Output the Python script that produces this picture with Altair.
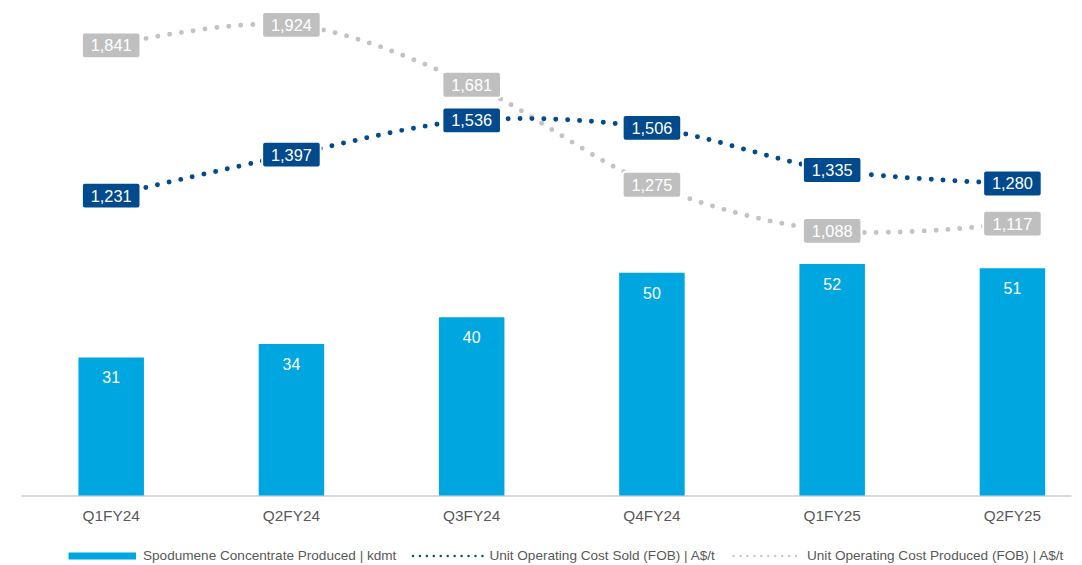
import altair as alt
import pandas as pd

quarters = ["Q1FY24", "Q2FY24", "Q3FY24", "Q4FY24", "Q1FY25", "Q2FY25"]
produced_kdmt = [31, 34, 40, 50, 52, 51]
cost_sold = [1231, 1397, 1536, 1506, 1335, 1280]
cost_produced = [1841, 1924, 1681, 1275, 1088, 1117]
legend_labels = [
    "Spodumene Concentrate Produced | kdmt",
    "Unit Operating Cost Sold (FOB) | A$/t",
    "Unit Operating Cost Produced (FOB) | A$/t",
]

BAR = "#00A6DF"
DARK = "#004A8D"
GREY = "#BFBFBF"
TXT = "#595959"
FONT = "Liberation Sans"

df = pd.DataFrame({
    "q": quarters,
    "kdmt": produced_kdmt,
    "sold": cost_sold,
    "prod": cost_produced,
})
df["sold_lbl"] = [f"{v:,}" for v in cost_sold]
df["prod_lbl"] = [f"{v:,}" for v in cost_produced]

x = alt.X(
    "q:N", sort=quarters, title=None,
    scale=alt.Scale(paddingInner=0.6366, paddingOuter=0.2313, align=0.69),
    axis=alt.Axis(domainColor="#D9D9D9", domainWidth=2, ticks=False, labelAngle=0,
                  labelFont=FONT, labelFontSize=15.5, labelColor=TXT, labelPadding=13,
                  grid=False),
)
ybar = alt.Y("kdmt:Q", scale=alt.Scale(domain=[0, 109]), axis=None)
cscale = alt.Scale(domain=[14, 1984])

base = alt.Chart(df)

bars = base.mark_bar(color=BAR).encode(x=x, y=ybar)
bar_txt = base.mark_text(color="white", font=FONT, fontSize=16, baseline="middle", dy=21).encode(
    x=x, y=ybar, text="kdmt:Q")

line_prod = base.mark_line(color="#C3C3C3", strokeWidth=5, strokeDash=[0, 12], strokeCap="round",
                           interpolate="catmull-rom").encode(
    x=x, y=alt.Y("prod:Q", scale=cscale, axis=None))
line_sold = base.mark_line(color=DARK, strokeWidth=5, strokeDash=[0, 12], strokeCap="round",
                           interpolate="catmull-rom").encode(
    x=x, y=alt.Y("sold:Q", scale=cscale, axis=None))

box_path = "M-26.5,-13H26.5Q29.5,-13 29.5,-10V10Q29.5,13 26.5,13H-26.5Q-29.5,13 -29.5,10V-10Q-29.5,-13 -26.5,-13Z"

box_prod = base.mark_point(shape=box_path, size=4, filled=True, fill=GREY, stroke="white",
                           strokeWidth=2, opacity=1).encode(
    x=x, y=alt.Y("prod:Q", scale=cscale, axis=None))
txt_prod = base.mark_text(color="white", font=FONT, fontSize=16.5, baseline="middle", dy=1).encode(
    x=x, y=alt.Y("prod:Q", scale=cscale, axis=None), text="prod_lbl:N")
box_sold = base.mark_point(shape=box_path, size=4, filled=True, fill=DARK, stroke="white",
                           strokeWidth=2, opacity=1).encode(
    x=x, y=alt.Y("sold:Q", scale=cscale, axis=None))
txt_sold = base.mark_text(color="white", font=FONT, fontSize=16.5, baseline="middle", dy=1).encode(
    x=x, y=alt.Y("sold:Q", scale=cscale, axis=None), text="sold_lbl:N")

one = alt.Data(values=[{"k": 0}])
leg_y = 550
leg_fs = 13.7
leg_swatch = alt.Chart(one).mark_rect(color=BAR).encode(
    x=alt.value(48), x2=alt.value(116), y=alt.value(leg_y - 3.5), y2=alt.value(leg_y + 3.5))
leg_t1 = alt.Chart(one).mark_text(align="left", baseline="middle", font=FONT, fontSize=leg_fs,
                                  color=TXT).encode(
    x=alt.value(123), y=alt.value(leg_y), text=alt.value(legend_labels[0]))
leg_l2 = alt.Chart(one).mark_rule(color=DARK, strokeWidth=2.5, strokeDash=[0, 7],
                                  strokeCap="round").encode(
    x=alt.value(395), x2=alt.value(466), y=alt.value(leg_y))
leg_t2 = alt.Chart(one).mark_text(align="left", baseline="middle", font=FONT, fontSize=leg_fs,
                                  color=TXT).encode(
    x=alt.value(472), y=alt.value(leg_y), text=alt.value(legend_labels[1]))
leg_l3 = alt.Chart(one).mark_rule(color="#C8C8C8", strokeWidth=2.5, strokeDash=[0, 7],
                                  strokeCap="round").encode(
    x=alt.value(718), x2=alt.value(786), y=alt.value(leg_y))
leg_t3 = alt.Chart(one).mark_text(align="left", baseline="middle", font=FONT, fontSize=leg_fs,
                                  color=TXT).encode(
    x=alt.value(792), y=alt.value(leg_y), text=alt.value(legend_labels[2]))

chart = alt.layer(
    bars, bar_txt, line_prod, line_sold, box_prod, txt_prod, box_sold, txt_sold,
    leg_swatch, leg_t1, leg_l2, leg_t2, leg_l3, leg_t3,
).resolve_scale(y="independent").properties(
    width=1058, height=489,
    padding={"left": 13, "top": 0, "right": 3, "bottom": 68},
    autosize=alt.AutoSizeParams(type="none"),
    background="white",
).configure_view(stroke=None)

chart.save("out.html", embed_options={"renderer": "svg", "actions": False})
